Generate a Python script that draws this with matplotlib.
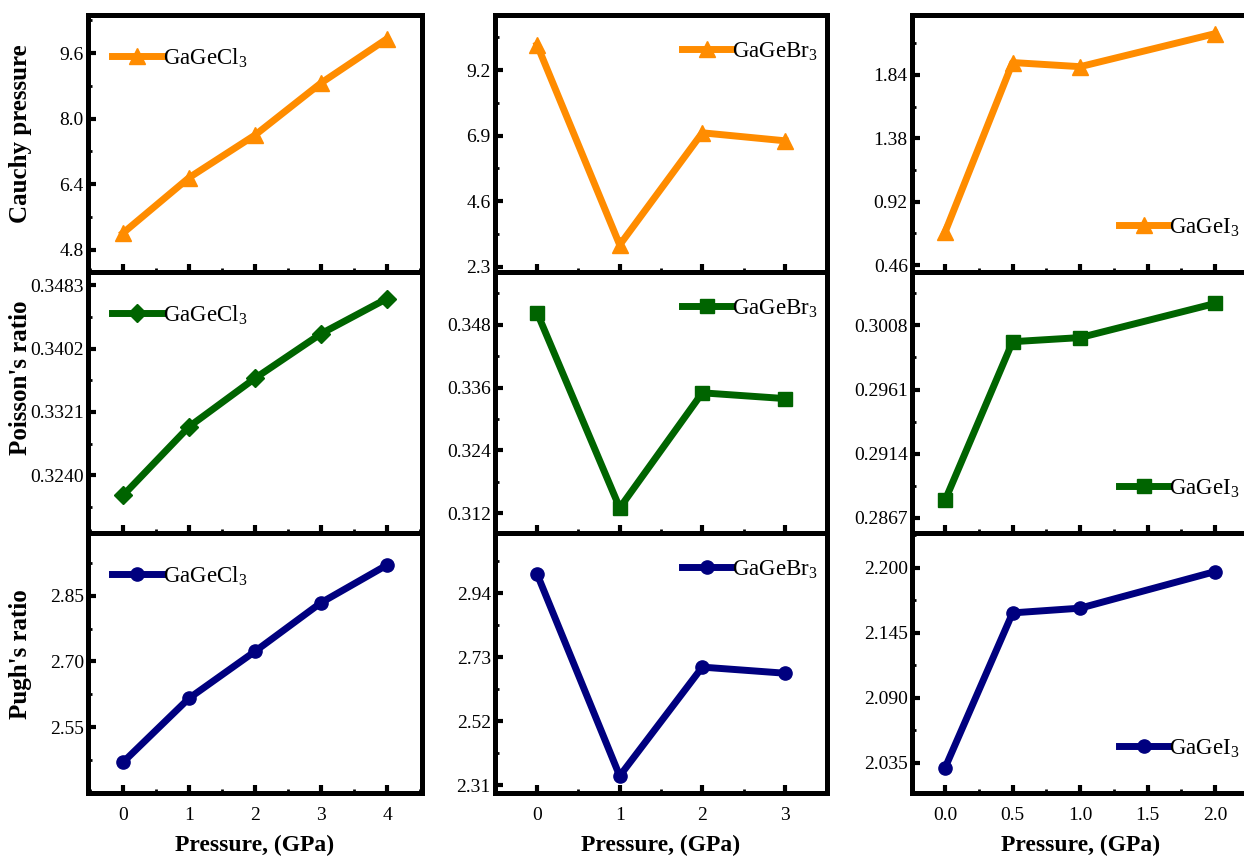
import numpy as np
import matplotlib
matplotlib.use("Agg")
import matplotlib.pyplot as plt
from matplotlib.ticker import AutoMinorLocator

# ==========================================
# DATA
# ==========================================
x_cl = [0, 1, 2, 3, 4]
x_br = [0, 1, 2, 3]
x_i = [0.0, 0.5, 1.0, 2.0]

cauchy_cl = [5.21, 6.56, 7.60, 8.87, 9.95]
cauchy_br = [10.08, 3.07, 7.00, 6.72]
cauchy_i = [0.70, 1.93, 1.90, 2.14]

poisson_cl = [0.3214, 0.3302, 0.3364, 0.3421, 0.3466]
poisson_br = [0.3503, 0.3130, 0.3350, 0.3339]
poisson_i = [0.2880, 0.2996, 0.2999, 0.3024]

pugh_cl = [2.470, 2.616, 2.723, 2.834, 2.920]
pugh_br = [3.002, 2.340, 2.697, 2.677]
pugh_i = [2.031, 2.162, 2.166, 2.197]

materials = ["GaGeCl$_3$", "GaGeBr$_3$", "GaGeI$_3$"]
row_labels = ["Cauchy pressure", "Poisson's ratio", "Pugh's ratio"]

yticks = [
    [["4.8", "6.4", "8.0", "9.6"], ["2.3", "4.6", "6.9", "9.2"], ["0.46", "0.92", "1.38", "1.84"]],
    [["0.3240", "0.3321", "0.3402", "0.3483"], ["0.312", "0.324", "0.336", "0.348"],
     ["0.2867", "0.2914", "0.2961", "0.3008"]],
    [["2.55", "2.70", "2.85"], ["2.31", "2.52", "2.73", "2.94"], ["2.035", "2.090", "2.145", "2.200"]],
]
xticks = [["0", "1", "2", "3", "4"], ["0", "1", "2", "3"], ["0.0", "0.5", "1.0", "1.5", "2.0"]]

# ==========================================
# STYLE
# ==========================================
plt.rcParams["font.family"] = ["Liberation Serif", "DejaVu Serif"]
plt.rcParams["mathtext.fontset"] = "custom"
plt.rcParams["mathtext.rm"] = "Liberation Serif"

row_colors = ["#FF8C00", "#006400", "#00007F"]
markers = [["^", "^", "^"], ["D", "s", "s"], ["o", "o", "o"]]
marker_sizes = [11, 9.5, 9.5]
legend_locs = ["upper left", "upper right", "lower right"]

ylims = [
    [(4.26, 10.53), (2.12, 11.13), (0.41, 2.275)],
    [(0.3166, 0.3500), (0.3082, 0.3581), (0.2856, 0.3047)],
    [(2.40, 2.993), (2.284, 3.137), (2.0096, 2.2296)],
]
xlims = [(-0.53, 4.53), (-0.51, 3.51), (-0.245, 2.25)]

# axes boxes in pixels (left, right) and (top, bottom)
W, H = 1244, 867
col_px = [(88, 422), (495, 827), (912, 1249)]
row_px = [(15, 272), (272, 533), (533, 793)]

# legend offsets from the corner, pixels (x, y)
legend_pad = [(15, 22), (0, 16), (0, 24)]

series = [
    [(x_cl, cauchy_cl), (x_br, cauchy_br), (x_i, cauchy_i)],
    [(x_cl, poisson_cl), (x_br, poisson_br), (x_i, poisson_i)],
    [(x_cl, pugh_cl), (x_br, pugh_br), (x_i, pugh_i)],
]

fig = plt.figure(figsize=(W / 100, H / 100), dpi=100)

for r in range(3):
    for c in range(3):
        l, rr = col_px[c]
        t, b = row_px[r]
        aw, ah = rr - l, b - t
        ax = fig.add_axes([l / W, (H - b) / H, aw / W, ah / H])
        xs, ys = series[r][c]
        ax.plot(xs, ys, color=row_colors[r], marker=markers[r][c],
                linewidth=5, markersize=marker_sizes[r], label=materials[c])
        ax.set_xlim(*xlims[c])
        ax.set_ylim(*ylims[r][c])

        ax.set_yticks([float(s) for s in yticks[r][c]])
        ax.set_yticklabels(yticks[r][c], fontsize=14)
        ax.set_xticks([float(s) for s in xticks[c]])
        if r == 2:
            ax.set_xticklabels(xticks[c], fontsize=14)
            ax.set_xlabel("Pressure, (GPa)", fontsize=17, fontweight="bold", labelpad=8)
        else:
            ax.set_xticklabels([])

        ax.xaxis.set_minor_locator(AutoMinorLocator(2))
        ax.yaxis.set_minor_locator(AutoMinorLocator(2))
        ax.tick_params(which="major", direction="in", length=6, width=3,
                       top=False, right=False, pad=3)
        ax.tick_params(axis="x", which="major", pad=10)
        ax.tick_params(which="minor", direction="in", length=3, width=2,
                       top=False, right=False)
        for sp in ax.spines.values():
            sp.set_linewidth(3.6)

        px, py = legend_pad[c]
        if c == 0:
            anchor = (px / aw, 1 - py / ah)
        elif c == 1:
            anchor = (1 - px / aw, 1 - py / ah)
        else:
            anchor = (1 - px / aw, py / ah)
        ax.legend(loc=legend_locs[c], bbox_to_anchor=anchor, frameon=False,
                  fontsize=16.5, handlelength=2.2, handletextpad=0.0,
                  borderaxespad=0.0)

# row labels
label_y = [134, 378, 654]
for r in range(3):
    fig.text(21 / W, (H - label_y[r]) / H, row_labels[r], rotation=90,
             ha="center", va="center", fontsize=18, fontweight="bold")

plt.savefig("out.png", dpi=100)
